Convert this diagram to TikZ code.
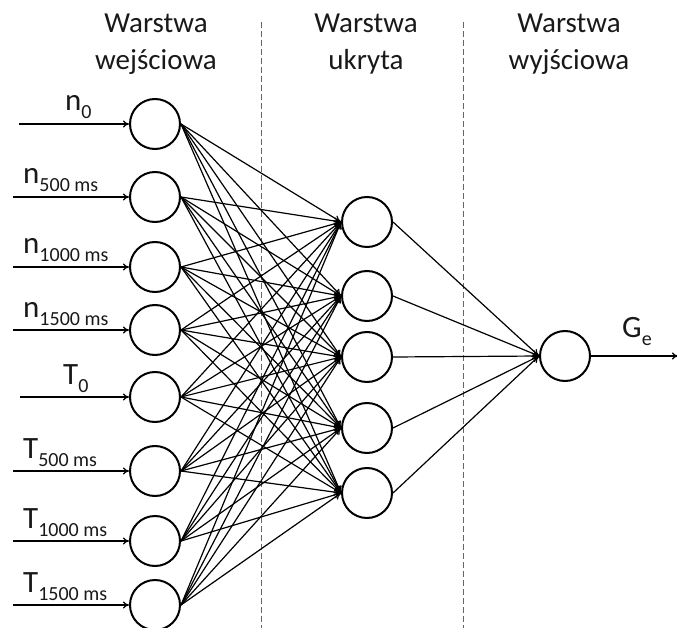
\documentclass[tikz,border=0pt]{standalone}
\usepackage{fontspec}
\setmainfont{Carlito}
\usetikzlibrary{arrows.meta}

% letter with a lowered index, as in the labels
\newcommand{\lowidx}[2]{#1\raisebox{-8pt}{\fontsize{20}{20}\selectfont #2}}

\begin{document}
\begin{tikzpicture}[
        x=1pt, y=-1pt,
        neuron/.style={circle, draw, line width=2pt, minimum size=50pt, inner sep=0pt},
        link/.style={line width=1.2pt, -{To[length=7pt,width=7pt]}},
        feed/.style={line width=1.3pt, -{To[length=6pt,width=7pt]}},
        title/.style={font=\fontsize{29}{37}\selectfont, align=center, anchor=north, inner sep=0pt, text=black!90},
        divider/.style={dashed, dash pattern=on 6pt off 3pt, black!60, line width=1pt},
        lbl/.style={anchor=base west, inner sep=0pt, font=\fontsize{31}{31}\selectfont, text=black!90}
    ]

    \useasboundingbox (0,0) rectangle (677,628);

    % Layer titles
    \node [title] (tin)  at (156,14) {Warstwa\\wejściowa};
    \node [title] (thid) at (366,14) {Warstwa\\ukryta};
    \node [title] (tout) at (569,14) {Warstwa\\wyjściowa};

    % Dividers between layers
    \draw [divider] (261,22) -- (261,628);
    \draw [divider] (463,22) -- (463,628);

    % Input layer with its feeding arrows
    \foreach \name/\y/\xs/\xl/\main/\sub in {
            in1/124/19/65/n/0,
            in2/197/13/23/n/500 ms,
            in3/267/13/23/n/1000 ms,
            in4/330/13/23/n/1500 ms,
            in5/397/20/63/T/0,
            in6/471/13/23/T/500 ms,
            in7/541/13/23/T/1000 ms,
            in8/605/13/23/T/1500 ms} {
        \node [neuron] (\name) at (155,\y) {};
        \coordinate (\name src) at (\xs,\y);
        \node [lbl] (\name lbl) at (\xl,\y-13) {\lowidx{\main}{\sub}};
        \draw [feed] (\name src) -- (\name);
    }

    % Hidden layer
    \foreach \name/\y in {hid1/222, hid2/296, hid3/357, hid4/428, hid5/493}
        \node [neuron] (\name) at (367,\y) {};

    % Output layer
    \node [neuron] (out) at (565,356) {};
    \coordinate (outend) at (678,356);
    \node [lbl] (outlbl) at (622,337) {\lowidx{G}{e}};

    % Connections
    \foreach \i in {1,...,8}
        \foreach \j in {1,...,5}
            \draw [link] (in\i.east) -- (hid\j.west);
    \foreach \j in {1,...,5}
        \draw [link] (hid\j.east) -- (out.west);
    \draw [feed] (out) -- (outend);

\end{tikzpicture}
\end{document}
